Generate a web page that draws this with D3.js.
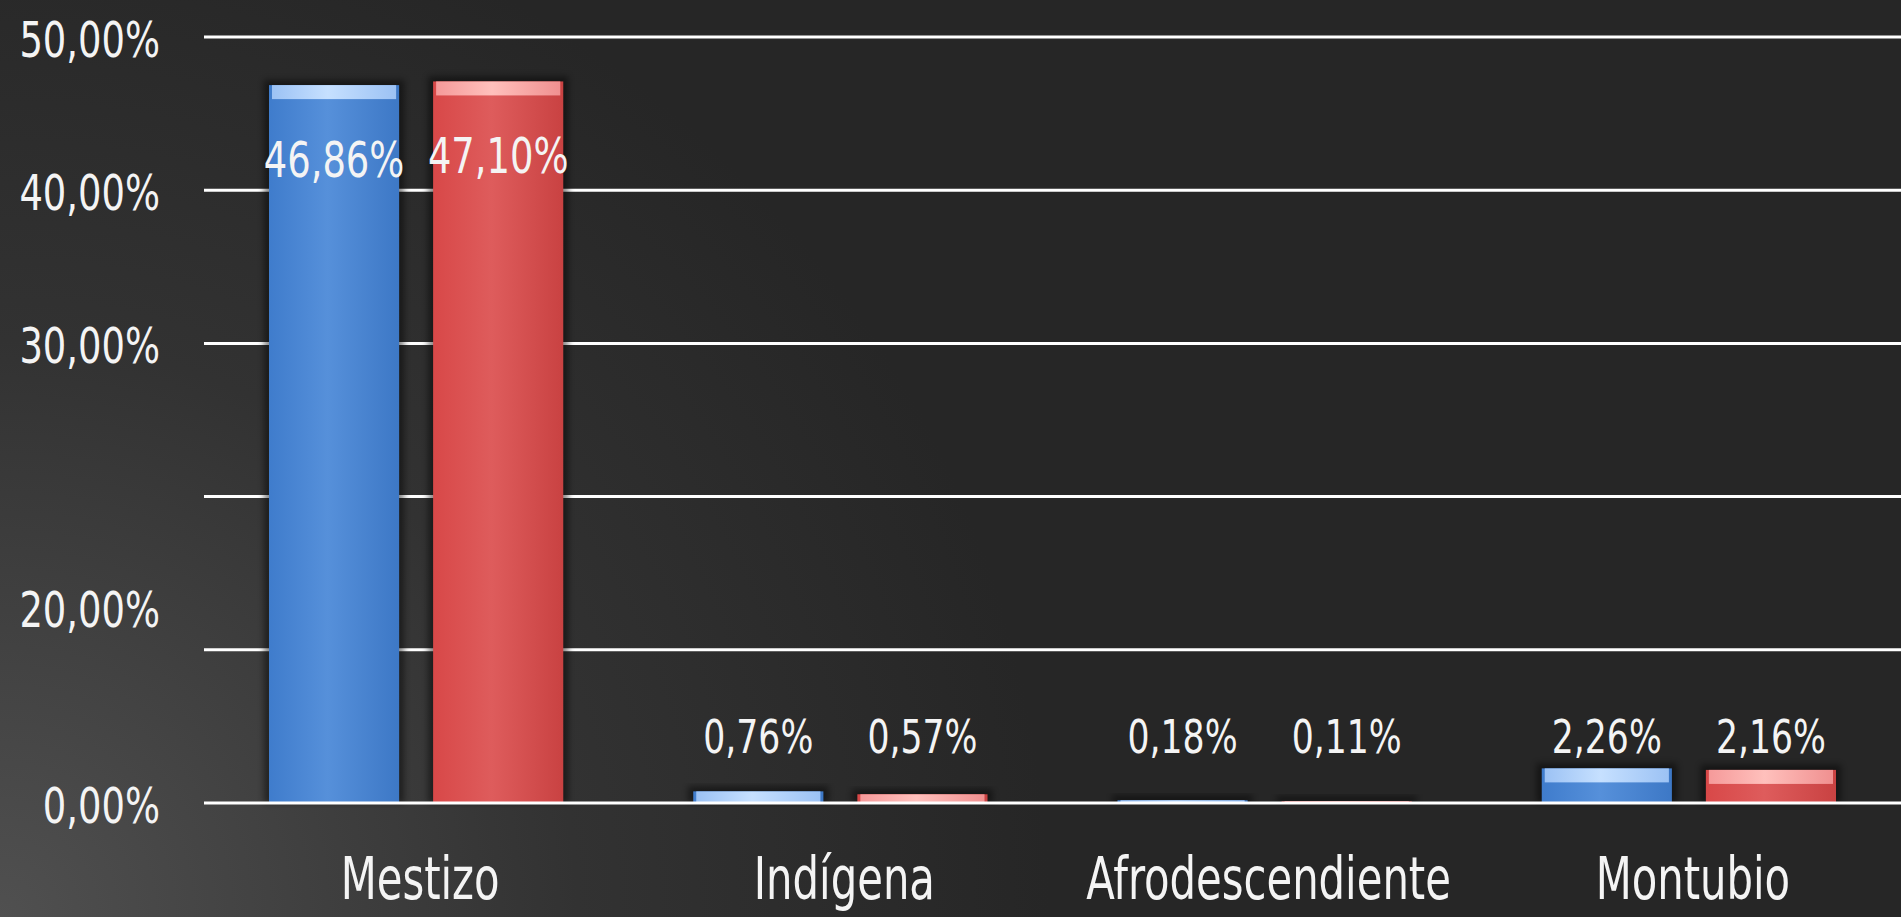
<!DOCTYPE html>
<html>
<head>
<meta charset="utf-8">
<script src="https://cdn.jsdelivr.net/npm/d3@7"></script>
<style>
	html, body { margin: 0; padding: 0; overflow: hidden; background: #262626; }
	text { font-family: "Liberation Sans Narrow", "Arial Narrow", "DejaVu Sans Condensed", sans-serif; fill: #f4f4f4; }
</style>
</head>
<body>
<div id="chart-area"></div>
<script>
const categories = ["Mestizo", "Indígena", "Afrodescendiente", "Montubio"];
const serie1 = [46.86, 0.76, 0.18, 2.26];
const serie2 = [47.10, 0.57, 0.11, 2.16];
const gridValues = [0, 10, 20, 30, 40, 50];
// the picture puts "20,00%" just above the 10% line and leaves 20% blank
const yLabelValues = [0, 12.8, 30, 40, 50];
const yLabelTexts = ["0,00%", "20,00%", "30,00%", "40,00%", "50,00%"];

const width = 1901;
const height = 917;
const margin = {top: 37, right: 0, bottom: 114, left: 204};
const narrow = 0.82; // squeeze the condensed font to the narrow face of the picture

const locale = d3.formatLocale({decimal: ",", thousands: ".", grouping: [3], currency: ["", ""]});
const fmt = v => locale.format(".2f")(v) + "%";

var svg = d3.select("#chart-area").append("svg")
	.attr("width", width)
	.attr("height", height);

var defs = svg.append("defs");

var bg = defs.append("radialGradient")
	.attr("id", "bg")
	.attr("gradientUnits", "userSpaceOnUse")
	.attr("cx", 0).attr("cy", height).attr("r", 1050);
bg.append("stop").attr("offset", 0).attr("stop-color", "#505050");
bg.append("stop").attr("offset", 0.55).attr("stop-color", "#323232");
bg.append("stop").attr("offset", 1).attr("stop-color", "#262626");

function barGradient(id, c0, c1, c2) {
	var g = defs.append("linearGradient").attr("id", id)
		.attr("x1", 0).attr("x2", 1).attr("y1", 0).attr("y2", 0);
	g.append("stop").attr("offset", 0).attr("stop-color", c0);
	g.append("stop").attr("offset", 0.45).attr("stop-color", c1);
	g.append("stop").attr("offset", 1).attr("stop-color", c2);
}
barGradient("blueBody", "#3f7ccc", "#5690da", "#3d78c6");
barGradient("redBody", "#d84848", "#de5c5c", "#c94242");
barGradient("blueCap", "#9cc2f4", "#c6e0ff", "#9cc2f4");
barGradient("redCap", "#f59a9a", "#ffc0bc", "#f09090");

defs.append("filter").attr("id", "shadow")
	.attr("x", "-20%").attr("y", "-20%").attr("width", "140%").attr("height", "140%")
	.append("feGaussianBlur").attr("stdDeviation", 3);

svg.append("rect")
	.attr("width", width)
	.attr("height", height)
	.attr("fill", "url(#bg)");

function renderBarChart() {

	var x = d3.scaleBand()
		.domain(categories)
		.range([margin.left, width - margin.right])
		.padding(0);

	var x1 = d3.scaleBand()
		.domain([0, 1])
		.range([0, x.bandwidth()])
		.paddingInner(0.207)
		.paddingOuter(0.396);

	var y = d3.scaleLinear()
		.domain([0, 50])
		.range([height - margin.bottom, margin.top]);

	// gridlines
	svg.append("g")
		.selectAll("line")
		.data(gridValues.filter(d => d > 0))
		.enter().append("line")
		.attr("x1", margin.left)
		.attr("x2", width - margin.right)
		.attr("y1", d => y(d))
		.attr("y2", d => y(d))
		.attr("stroke", "#ffffff")
		.attr("stroke-width", 3);

	var rows = [];
	categories.forEach((c, i) => {
		rows.push({cat: c, s: 0, value: serie1[i]});
		rows.push({cat: c, s: 1, value: serie2[i]});
	});

	var bars = svg.append("g")
		.selectAll("g")
		.data(rows)
		.enter().append("g")
		.attr("transform", d => `translate(${x(d.cat) + x1(d.s)},0)`);

	bars.append("rect")
		.attr("x", -5)
		.attr("y", d => y(d.value) - 5)
		.attr("width", x1.bandwidth() + 10)
		.attr("height", d => y(0) - y(d.value) + 5)
		.attr("fill", "#000")
		.attr("opacity", 0.45)
		.attr("filter", "url(#shadow)");

	bars.append("rect")
		.attr("y", d => y(d.value))
		.attr("width", x1.bandwidth())
		.attr("height", d => y(0) - y(d.value))
		.attr("fill", d => d.s === 0 ? "url(#blueBody)" : "url(#redBody)");

	bars.append("rect")
		.attr("x", 3)
		.attr("y", d => y(d.value))
		.attr("width", x1.bandwidth() - 6)
		.attr("height", d => Math.min(14, y(0) - y(d.value)))
		.attr("fill", d => d.s === 0 ? "url(#blueCap)" : "url(#redCap)");

	// zero line over the bars
	svg.append("line")
		.attr("x1", margin.left)
		.attr("x2", width - margin.right)
		.attr("y1", y(0))
		.attr("y2", y(0))
		.attr("stroke", "#ffffff")
		.attr("stroke-width", 3);

	// value labels
	bars.append("text")
		.attr("transform", d => {
			var ty = d.value > 40 ? y(d.value) + 92 : Math.min(y(d.value) - 14, y(0) - 50);
			return `translate(${x1.bandwidth() / 2},${ty}) scale(${narrow},1)`;
		})
		.attr("text-anchor", "middle")
		.attr("font-size", d => d.value > 40 ? 50 : 47)
		.text(d => fmt(d.value));

	// y labels
	svg.append("g")
		.selectAll("text")
		.data(yLabelValues)
		.enter().append("text")
		.attr("transform", d => `translate(160,${y(d) + 3}) scale(${narrow},1)`)
		.attr("dominant-baseline", "central")
		.attr("text-anchor", "end")
		.attr("font-size", 50)
		.text((d, i) => yLabelTexts[i]);

	// category labels
	svg.append("g")
		.selectAll("text")
		.data(categories)
		.enter().append("text")
		.attr("transform", d => `translate(${x(d) + x.bandwidth() / 2 + 4},899) scale(0.8,1)`)
		.attr("text-anchor", "middle")
		.attr("font-size", 58)
		.text(d => d);

}

renderBarChart();
</script>
</body>
</html>
